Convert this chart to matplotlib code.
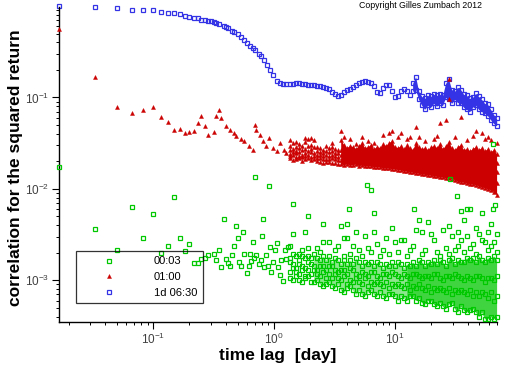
import numpy as np
import matplotlib
matplotlib.use('Agg')
import matplotlib.pyplot as plt

plt.rc('font', family='Liberation Sans')
plt.rc('mathtext', default='regular')

nan = np.nan
day_per_step = 1 / 60.   # one lag step in days

# ---- values: lag (in steps) and correlation ----
blue_early_steps = [1, 2, 3, 4, 5, 6, 7, 8, 9, 10, 11, 12, 13, 14, 15, 16,
                    17, 18, 19, 20, 21, 23, 24, 25, 27, 28, 30, 32, 34, 36, 38, 40,
                    42, 45, 47, 50, 53, 56, 59, 63, 67, 71, 75]
blue_early = [.99, .97, .94, .91, .90, .90, .87, .84, .83, .81, .78, .76, .74, .73, .71, .70,
              .687, .677, .665, .651, .634, .606, .583, .569, .531, .518, .492, .456, .428, .397,
              .368, .345, .328, .301, .286, .258, .228, .200, .177, .152, .1425, .141, .141]

red_early_steps = [1, 2, 3, 4, 5, 6, 7, 8, 9, 10, 11, 12, 13, 14, 15, 16,
                   17, 19, 20, 21, 22, 24, 26, 28, 29, 32, 34, 37, 40, 42, 43, 46,
                   49, 52, 55, 59, 63, 67, 72, 76]
red_early = [.558, .169, .079, .068, .073, .079, .061, .054, .044, .045, .041, .042, .043, .053, .063, .049,
             .0392, .0416, .0634, .072, .0598, .0492, .0445, .0409, .0376, .0352, .0331, .0292,
             .0268, .0505, .0445, .0392, .0331, .0292, .0361, .028, .0257, .0318, .0268, .0247]

green_early_steps = [1, 2, 3, 4, 5, 6, 7, 8, 9, 10, 11, 12, 13, 14, 15, 16,
                     17, 19, 20, 21, 22, 23, 24, 25, 26, 27, 28, 29, 30, 31, 32, 33, 34, 36, 37, 38,
                     39, 40, 41, 42, 43, 45, 47, 48, 49, 50, 52, 54, 55, 56, 57, 59, 61, 63, 65, 67,
                     69, 71, 74, 76, 78]
green_early = [.0173, .0036, .00214, .0063, .0029, .0053, .0020, .0024, .0081, .0029, .00207, .00247,
               .00155, .00153, .00173, .00177,
               .00187, .00192, .00165, .00215, .00139, .00467, .00173, .00154, .00144, .00187,
               .0024, .00389, .00293, .00158, .00144, .00336, .00196, .00121, .00142, .00196,
               .00163, .00265, .00175, .0134, .00187, .0015, .00167, .00308, .0047, .00139,
               .00187, .00142, .0107, .00232, .00124, .0016, .00215, .00257, .00139, .00114,
               .00167, .00098, .00215, .00169, .00232]

# long lags, sampled at these steps
tail_steps = [81, 86, 91, 96, 102, 108, 114, 121, 128, 136,
              144, 152, 161, 171, 181, 191, 202, 214, 227, 240,
              254, 269, 285, 302, 319, 338, 358, 379, 401, 425,
              450, 476, 504, 534, 565, 598, 633, 670, 710, 751,
              795, 842, 892, 944, 1000, 1058, 1120, 1186, 1256, 1330,
              1408, 1491, 1578, 1671, 1769, 1873, 1983, 2100, 2223, 2354,
              2492, 2639, 2794, 2958, 3132, 3316, 3511, 3718, 3937, 4168]

blue_hi = [.141, .142, .1425, .1425, .142, .140, .138, .1365, .1355, .134,
           .133, .131, .128, .1235, .115, .108, .1025, .106, .115, .121,
           .125, .129, .1355, .1425, .148, .151, .149, .1425, .132, .1135,
           .1105, .1255, .1355, .1355, .1165, .101, .104, .1165, .124, .119,
           .106, .1425, .168, .1165, .1025, .0975, .105, .1025, .108, .105,
           .108, .105, .1425, .158, .122, .1165, .129, .122, .108, .105,
           .0975, .100, .1105, .1025, .095, .086, .084, .074, .065, .059]
blue_lo = [.1165, .122, .095, .082, .074, .082, .078, .086, .080, .086,   # from tail_steps[41]
           .082, .100, .095, .086, .095, .088, .086, .078, .074, .070,
           .078, .082, .074, .070, .067, .063, .057, .052, .049]

red_r1 = [.0296, .0320, .0289, .0312, .0296, .0328, .0354, .0304, .0345, .0289,
          .0282, .0268, .0296, .0282, .0289, .0275, .0268, .0345, .0304, .0282,
          .0296, .0289, .0275, .0296, .0320, .0282, .0289, .0304, .0275, .0289,
          .0282, .0312, .0296, .0320, .0336, .0289, .0282, .0296, .0275, .0304,
          .0282, .0268, .0320, .0289, .0275, .0282, .0268, .0289, .0296, .0282,
          .0312, .0275, .0296, .0328, .0282, .0268, .0289, .0304, .0268, .0275,
          .0261, .0275, .0289, .0268, .0282, .0261, .0275, .0254, .0268, .0242]
red_r2 = [.0268, .0275, .0261, .0282, .0268, .0275, .0296, .0275, .0289, .0261,
          .0254, .0248, .0261, .0254, .0261, .0248, .0248, .0268, .0261, .0254,
          .0261, .0254, .0248, .0261, .0268, .0254, .0254, .0261, .0248, .0254,
          .0248, .0261, .0254, .0261, .0268, .0248, .0248, .0248, .0242, .0254,
          .0242, .0236, .0261, .0242, .0236, .0236, .0230, .0242, .0242, .0236,
          .0248, .0230, .0236, .0248, .0230, .0224, .0230, .0236, .0218, .0224,
          .0218, .0218, .0224, .0213, .0218, .0208, .0213, .0203, .0208, .0193]
red_r3 = [.0242, .0254, .0248, .0254, .0236, .0248, .0261, .0254, .0248, .0236,
          .0236, .0230, .0236, .0230, .0236, .0230, .0224, .0236, .0230, .0230,
          .0230, .0224, .0224, .0230, .0236, .0224, .0224, .0230, .0218, .0224,
          .0218, .0224, .0224, .0224, .0230, .0218, .0218, .0213, .0213, .0213,
          .0208, .0208, .0213, .0208, .0203, .0203, .0197, .0203, .0203, .0197,
          .0203, .0193, .0197, .0197, .0188, .0188, .0188, .0188, .0183, .0183,
          .0178, .0178, .0178, .0174, .0174, .0169, .0169, .0166, .0162, .0153]
red_r4 = [.0230, .0236, .0224, .0230, .0224, .0230, .0236, .0224, .0230, .0218,
          .0218, .0213, .0213, .0213, .0218, .0213, .0208, .0208, .0208, .0208,
          .0208, .0203, .0203, .0203, .0208, .0203, .0203, .0203, .0197, .0197,
          .0197, .0197, .0197, .0197, .0197, .0193, .0188, .0188, .0183, .0183,
          .0178, .0178, .0178, .0178, .0174, .0174, .0169, .0169, .0169, .0166,
          .0166, .0162, .0162, .0162, .0157, .0153, .0153, .0149, .0149, .0145,
          .0142, .0142, .0138, .0138, .0135, .0132, .0132, .0129, .0122, .0116]
red_r5 = [.0218, .0208, .0213, .0218, .0203, .0213, .0218, .0208, .0213, .0203,
          .0197, .0193, .0197, .0197, .0193, .0193, .0188, .0188, .0183, .0188,
          .0183, .0183, .0188, .0178, .0183, .0178, .0178, .0178, .0174, .0174,
          .0174, .0169, .0169, .0169, .0166, .0166, .0162, .0162, .0157, .0157,
          .0153, .0153, .0149, .0149, .0145, .0145, .0142, .0142, .0138, .0138,
          .0135, .0135, .0132, .0132, .0129, .0126, .0122, .0119, .0119, .0116,
          .0113, .0113, .0111, .0108, .0105, .0103, .0100, .0098, .0093, .0086]
red_spike_steps = [81, 91, 108, 121, 181, 214, 227, 254, 285, 319,
                   358, 401, 476, 534, 565, 633, 670, 751, 795, 892,
                   944, 1058, 1256, 1330, 1408, 1578, 1671, 1873, 2100, 2354,
                   2639, 2794, 3132, 3316, 3511, 3718, 4168, 1671]
red_spike = [.0345, .0328, .0363, .0363, .0320, .0434, .0372, .0354, .0312, .0372,
             .0336, .0320, .0392, .0412, .0434, .0372, .0412, .0354, .0372, .0470,
             .0372, .0336, .0354, .0382, .0531, .0573, .095, .0372, .0618, .0345,
             .0382, .0434, .0412, .0354, .0372, .0345, .0320, .158]

green_g0 = [.00176, .00194, .00185, .00167, .00185, .00176, .00185, .00176, .00194, .00176,
            .00167, .00185, .00167, .00185, .00159, .00176, .00167, .00151, .00167, .00151,
            .00167, .00151, .00176, .00159, .00143, .00159, .00151, .00159, .00143, .00159,
            .00151, .00136, .00151, .00143, .00159, .00143, .00159, .00151, .00136, .00151,
            .00143, .00159, .00143, .00167, .00159, .00143, .00159, .00151, .00167, .00151,
            .00167, .00159, .00143, .00167, .00176, .00151, .00167, .00159, .00159, .00176,
            .00167, .00176, .00159, .00185, .00167, .00159, .00176, .00167, .00185, .00167]
green_g2 = [.00159, .00151, .00136, .00151, .00143, .00136, .00159, .00151, .00143, .0013,
            .00143, .00143, .0013, .00143, .00143, .0013, .00123, .0013, .0013, .00117,
            .00136, .0013, .00117, .00111, .00123, .00117, .00111, .00123, .00123, .00111,
            .00106, .00117, .00117, .00111, .00123, .00117, .00111, .00106, .00117, .00111,
            .00106, .00117, .00117, .00111, .00106, .00111, .00111, .00106, .00117, .00117,
            .00106, .001, .00111, .00111, .00106, .00117, .00111, .00106, .001, .00111,
            .00106, .001, .00111, .00111, .00106, .00095, .00106, .00106, .001, .00111]
green_g3 = [.00123, .00136, .00123, .00117, .0013, .00111, .0013, .00117, .0013, .00117,
            .00111, .00123, .00106, .00117, .00106, .00117, .00106, .001, .00111, .00091,
            .001, .00095, .00106, .00095, .00091, .00106, .00086, .00095, .00091, .00095,
            .00091, .00086, .00095, .00082, .00091, .00086, .00091, .00086, .00082, .00091,
            .00078, .00086, .00082, .00091, .00082, .00078, .00086, .00074, .00082, .00078,
            .00082, .00078, .00074, .00082, .0007, .00078, .00074, .00078, .00074, .0007,
            .00078, .00067, .00074, .00067, .00074, .0007, .00064, .00074, .0006, .00067]
green_g5 = [.00106, .001, .00111, .001, .00095, .00106, .00111, .00095, .00095, .001,
            .00091, .00086, .00091, .00095, .00086, .00082, .00091, .00078, .00074, .00082,
            .00086, .00078, .0007, .00078, .0007, .00067, .00074, .00078, .0007, .00067,
            .00074, .00067, .00064, .0007, .0007, .00067, .0006, .00067, .00064, .0006,
            .00067, .00067, .0006, .00064, .00057, .00055, .0006, .0006, .00055, .00052,
            .00057, .00052, .00049, .00055, .00057, .00049, .00045, .00052, .00047, .00045,
            .00047, .00049, .00045, .0004, .00045, .00038, .00038, .0004, .00038, .0004]
green_scatter = [.00238, .00322, nan, .00194, .00215, .00339, .00226, nan, nan, .00226,
                 .00204, .00263, nan, .00263, nan, .00215, .00238, nan, .00185, .00291,
                 .00194, .00238, nan, .00215, .00185, .00306, .00226, .00204, nan, .0025,
                 .00185, .00215, .00291, .00194, nan, .00263, .00204, .00277, .00277, .00185,
                 .00215, .00238, nan, nan, .00194, .00215, nan, .00322, .00277, .00204,
                 .00185, nan, .00226, .00194, .00306, .00215, .00238, .00277, .00204, .00306,
                 .00226, .0025, .00194, .00322, .00277, .00263, .00215, .00238, .00263, .00204]
green_upper_steps = [86, 114, 152, 214, 227, 240, 285, 401, 565, 892, 944, 1000, 1120, 1491,
                     1671, 1983, 2223, 2794, 3511, 3718, 4168,
                     250, 356, 384, 404, 859, 1703, 1958, 2128, 2389, 2494, 3151, 3884, 4064, 3884]
green_upper = [.00687, .00507, .00415, .00394, .00291, .00415, .00339, .00339, .00375, .00356,
               .00459, .00339, .00436, .00356, .00394, .00339, .00459, .00375, .00339, .00415,
               .00322,
               .0061, .0111, .0096, .0055, .0060, .0128, .0084, .0058, .0060, .0061, .0055,
               .0061, .0067, .0313]

labels = ['00:03', '01:00', '1d 06:30']
BLUE, RED, GREEN = '#3434e6', '#cc0000', '#00c800'

fig = plt.figure(figsize=(5.12, 3.66), dpi=100)
ax = fig.add_axes([0.1152, 0.1202, 0.8555, 0.8607])
ax.set_xscale('log')
ax.set_yscale('log')


def days(steps):
    return np.asarray(steps) * day_per_step


def squares(steps, vals, color, z):
    return ax.plot(days(steps), vals, ls='none', marker='s', ms=2.5, mfc='none',
                   mec=color, mew=0.9, clip_on=False, zorder=z)[0]


def triangles(steps, vals, color, z):
    return ax.plot(days(steps), vals, ls='none', marker='^', ms=2.9, mfc=color,
                   mec=color, mew=0.3, clip_on=False, zorder=z)[0]


tail = days(tail_steps)

# 1d 06:30
hb = squares(blue_early_steps, blue_early, BLUE, 2)
squares(tail_steps, blue_hi, BLUE, 2)
squares(tail_steps[41:], blue_lo, BLUE, 2)
ax.fill_between(tail[41:], blue_lo, blue_hi[41:], color=BLUE, lw=0, zorder=2)

# 01:00
hr = triangles(red_early_steps, red_early, RED, 3)
for row in (red_r1, red_r2, red_r3, red_r4, red_r5):
    triangles(tail_steps, row, RED, 3)
ax.fill_between(tail[17:], red_r5[17:], red_r1[17:], color=RED, lw=0, zorder=3)
triangles(red_spike_steps, red_spike, RED, 3)

# 00:03
hg = squares(green_early_steps, green_early, GREEN, 4)
for row in (green_g0, green_g2, green_g3, green_g5, green_scatter):
    squares(tail_steps, row, GREEN, 4)
ax.fill_between(tail[8:40], green_g5[8:40], green_g0[8:40], color=GREEN, alpha=0.45,
                lw=0, zorder=4)
ax.fill_between(tail[39:], green_g5[39:], green_g0[39:], color=GREEN, alpha=0.75,
                lw=0, zorder=4)
squares(green_upper_steps, green_upper, GREEN, 4)

ax.set_xlim(1 / 60., 70)
ax.set_ylim(3.5e-4, 0.975)

for s in ('top', 'right'):
    ax.spines[s].set_visible(False)
for s in ('left', 'bottom'):
    ax.spines[s].set_linewidth(1.0)
ax.tick_params(which='major', direction='out', length=5, width=0.8,
               labelsize=8.5, labelcolor='#404040', pad=2)
ax.tick_params(which='minor', direction='out', length=2.5, width=0.7)

ax.set_xlabel('time lag  [day]', fontsize=12.5, fontweight='bold', va='center')
ax.xaxis.set_label_coords(0.5, -0.105)
ax.set_ylabel('correlation for the squared return', fontsize=12.5, fontweight='bold', va='center')
ax.yaxis.set_label_coords(-0.099, 0.49)

leg = ax.legend([hg, hr, hb], labels, loc='lower left', bbox_to_anchor=(0.039, 0.060),
                borderaxespad=0, fancybox=False, edgecolor='black', facecolor='none',
                fontsize=8, handlelength=5.0, handletextpad=1.5, borderpad=0.5,
                labelspacing=0.5, numpoints=1)
leg.get_frame().set_linewidth(0.9)

fig.text(359 / 512., 1 - 5 / 366., 'Copyright Gilles Zumbach 2012', fontsize=6.3,
         ha='left', va='center')

fig.savefig('out.png', dpi=100)
